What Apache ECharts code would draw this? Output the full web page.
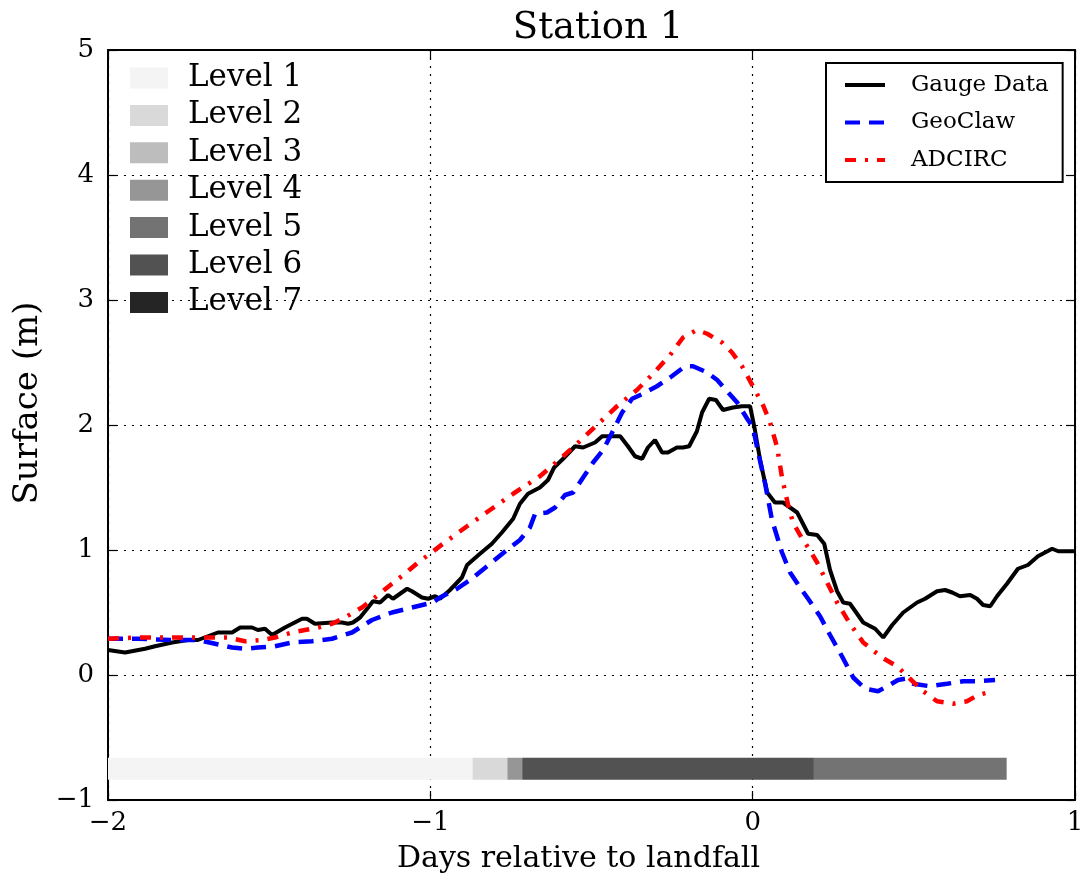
<!DOCTYPE html>
<html>
<head>
<meta charset="utf-8">
<script src="https://cdn.jsdelivr.net/npm/echarts@6/dist/echarts.min.js"></script>
<style>html,body{margin:0;padding:0;background:#fff;}#c{width:1081px;height:888px;}</style>
</head>
<body>
<div id="c"></div>
<script>
// ---- data ----
const gaugeDays = [-2.000,-1.947,-1.885,-1.854,-1.801,-1.752,-1.721,-1.690,-1.659,-1.615,-1.590,-1.553,-1.535,-1.513,-1.491,-1.451,-1.398,-1.383,-1.358,-1.305,-1.274,-1.255,-1.240,-1.218,-1.193,-1.178,-1.156,-1.131,-1.116,-1.072,-1.057,-1.026,-1.007,-0.985,-0.970,-0.939,-0.902,-0.886,-0.846,-0.809,-0.778,-0.743,-0.722,-0.697,-0.660,-0.635,-0.616,-0.588,-0.551,-0.526,-0.489,-0.467,-0.442,-0.411,-0.387,-0.365,-0.343,-0.325,-0.303,-0.281,-0.263,-0.235,-0.216,-0.197,-0.173,-0.157,-0.135,-0.114,-0.092,-0.061,-0.033,-0.008,0.007,0.023,0.045,0.069,0.094,0.138,0.172,0.200,0.222,0.240,0.262,0.281,0.302,0.343,0.380,0.405,0.433,0.467,0.510,0.535,0.572,0.597,0.619,0.643,0.675,0.696,0.715,0.737,0.758,0.789,0.823,0.854,0.885,0.929,0.948,1.000];
const gaugeValues = [0.20,0.18,0.21,0.23,0.26,0.28,0.28,0.31,0.34,0.34,0.38,0.38,0.36,0.37,0.32,0.38,0.45,0.45,0.41,0.42,0.42,0.41,0.42,0.46,0.54,0.59,0.58,0.64,0.61,0.69,0.67,0.62,0.61,0.63,0.61,0.68,0.78,0.88,0.97,1.05,1.14,1.25,1.37,1.45,1.50,1.56,1.66,1.73,1.83,1.82,1.86,1.91,1.91,1.91,1.83,1.75,1.73,1.82,1.88,1.78,1.78,1.82,1.82,1.83,1.95,2.10,2.21,2.20,2.12,2.14,2.15,2.15,1.96,1.72,1.46,1.38,1.38,1.30,1.13,1.12,1.05,0.84,0.67,0.58,0.57,0.42,0.37,0.30,0.40,0.50,0.58,0.61,0.67,0.68,0.66,0.63,0.64,0.61,0.56,0.55,0.63,0.73,0.85,0.88,0.95,1.01,0.99,0.99];

const geoclawDays = [-2.000,-1.907,-1.801,-1.721,-1.668,-1.615,-1.575,-1.535,-1.482,-1.429,-1.367,-1.305,-1.243,-1.181,-1.119,-1.057,-0.992,-0.970,-0.917,-0.877,-0.824,-0.762,-0.722,-0.691,-0.675,-0.638,-0.613,-0.582,-0.557,-0.526,-0.495,-0.464,-0.436,-0.405,-0.374,-0.340,-0.297,-0.256,-0.210,-0.185,-0.141,-0.110,-0.079,-0.048,-0.017,0.001,0.017,0.038,0.060,0.091,0.116,0.147,0.172,0.209,0.240,0.277,0.312,0.349,0.389,0.417,0.451,0.473,0.498,0.550,0.603,0.653,0.696,0.752];
const geoclawValues = [0.29,0.29,0.28,0.28,0.25,0.22,0.21,0.22,0.23,0.26,0.27,0.29,0.34,0.44,0.50,0.54,0.58,0.62,0.69,0.76,0.87,1.00,1.08,1.18,1.29,1.30,1.34,1.44,1.46,1.58,1.70,1.80,1.94,2.10,2.21,2.25,2.31,2.38,2.47,2.47,2.42,2.36,2.27,2.18,2.05,1.98,1.78,1.54,1.24,0.98,0.82,0.70,0.61,0.47,0.32,0.15,-0.02,-0.11,-0.13,-0.09,-0.04,-0.03,-0.07,-0.09,-0.07,-0.05,-0.05,-0.04];

const adcircDays = [-2.000,-1.907,-1.801,-1.708,-1.628,-1.575,-1.522,-1.482,-1.429,-1.389,-1.348,-1.305,-1.265,-1.212,-1.172,-1.119,-1.079,-1.038,-1.001,-0.961,-0.886,-0.815,-0.743,-0.660,-0.588,-0.545,-0.483,-0.421,-0.359,-0.309,-0.256,-0.216,-0.173,-0.141,-0.095,-0.064,-0.033,-0.014,0.007,0.032,0.054,0.076,0.091,0.110,0.125,0.147,0.172,0.200,0.231,0.262,0.302,0.343,0.401,0.448,0.488,0.529,0.572,0.622,0.665,0.699,0.730];
const adcircValues = [0.29,0.30,0.30,0.30,0.30,0.27,0.28,0.30,0.34,0.36,0.38,0.41,0.46,0.54,0.62,0.73,0.81,0.90,0.97,1.05,1.19,1.32,1.45,1.59,1.75,1.85,2.00,2.15,2.28,2.41,2.56,2.70,2.76,2.73,2.66,2.58,2.47,2.38,2.28,2.16,2.02,1.82,1.58,1.36,1.22,1.12,1.02,0.90,0.74,0.58,0.41,0.26,0.14,0.07,-0.03,-0.13,-0.21,-0.23,-0.21,-0.16,-0.14];

// refinement level bar (segments in days)
const levelNames = ['Level 1','Level 2','Level 3','Level 4','Level 5','Level 6','Level 7'];
const levelSegStart = [-2.000, -0.869, -0.761, -0.715, 0.190];
const levelSegEnd   = [-0.869, -0.761, -0.715, 0.190, 0.788];
const levelSegLevel = [1, 2, 4, 6, 5];
const levelBarY = -0.75;
const levelBarHeight = 0.176;

const xTicks = [-2, -1, 0, 1];
const yTicks = [-1, 0, 1, 2, 3, 4, 5];

// ---- styles ----
const FONT = "'DejaVu Serif', serif";
const levelColors = ['#f4f4f4','#d9d9d9','#bdbdbd','#969696','#737373','#525252','#252525'];
const zip = (a, b) => a.map((v, i) => [v, b[i]]);
const fmt = v => (v < 0 ? '\u2212' + Math.abs(v) : String(v));

const levelSeries = levelNames.map((name, k) => {
  const data = [];
  levelSegLevel.forEach((lv, i) => { if (lv === k + 1) data.push([levelSegStart[i], levelSegEnd[i]]); });
  return {
    name: name,
    type: 'custom',
    xAxisIndex: 0, yAxisIndex: 0,
    itemStyle: { color: levelColors[k] },
    encode: { x: [0, 1] },
    data: data,
    z: 3,
    renderItem: (params, api) => {
      const p0 = api.coord([api.value(0), levelBarY]);
      const p1 = api.coord([api.value(1), levelBarY]);
      const h = api.size([0, levelBarHeight])[1];
      return { type: 'rect', shape: { x: p0[0], y: p0[1] - h / 2, width: p1[0] - p0[0], height: h }, style: { fill: levelColors[k] } };
    }
  };
});

const axisLineStyle = { show: true, onZero: false, lineStyle: { color: '#000', width: 2 } };
const tickStyle = { show: true, inside: true, length: 9, lineStyle: { color: '#000', width: 1.2 } };
const gridLine = { show: true, lineStyle: { color: '#000', width: 1.2, type: [2, 6] } };

const chart = echarts.init(document.getElementById('c'), null, { renderer: 'canvas' });
chart.setOption({
  animation: false,
  backgroundColor: '#fff',
  title: {
    text: 'Station 1', left: 593, top: 5, textAlign: 'center',
    textStyle: { fontFamily: FONT, fontSize: 37, fontWeight: 'normal', color: '#000' }
  },
  grid: { left: 108, right: 6, top: 50, bottom: 88, containLabel: false, outerBoundsMode: 'none' },
  legend: [
    {
      data: levelNames, orient: 'vertical', left: 130, top: 62.5, padding: 0,
      icon: 'rect', itemWidth: 38, itemHeight: 21, itemGap: 6.4, selectedMode: false,
      textStyle: { fontFamily: FONT, fontSize: 31, color: '#000', lineHeight: 21, padding: [0, 0, 0, 15] }
    },
    {
      data: ['Gauge Data', 'GeoClaw', 'ADCIRC'], orient: 'vertical', left: 826, top: 63,
      padding: [10.5, 14, 10.5, 17], borderColor: '#000', borderWidth: 2, borderRadius: 0, backgroundColor: '#fff',
      itemWidth: 40, itemHeight: 22, itemGap: 14.5, selectedMode: false,
      itemStyle: { opacity: 0 },
      lineStyle: { width: 4 },
      textStyle: { fontFamily: FONT, fontSize: 23, color: '#000', lineHeight: 22, padding: [0, 0, 0, 21] }
    }
  ],
  xAxis: [
    {
      type: 'value', min: xTicks[0], max: xTicks[xTicks.length - 1], interval: 1, position: 'bottom',
      name: 'Days relative to landfall', nameLocation: 'middle', nameGap: 44,
      nameTextStyle: { fontFamily: FONT, fontSize: 30, color: '#000', padding: [0, 26, 0, 0] },
      axisLine: axisLineStyle, axisTick: tickStyle, splitLine: gridLine,
      axisLabel: { formatter: fmt, fontFamily: FONT, fontSize: 26, color: '#000', margin: 10 }
    },
    {
      type: 'value', min: xTicks[0], max: xTicks[xTicks.length - 1], interval: 1, position: 'top',
      axisLine: axisLineStyle, axisTick: tickStyle, splitLine: { show: false }, axisLabel: { show: false }
    }
  ],
  yAxis: [
    {
      type: 'value', min: yTicks[0], max: yTicks[yTicks.length - 1], interval: 1, position: 'left',
      name: 'Surface (m)', nameLocation: 'middle', nameGap: 62, nameRotate: 90,
      nameTextStyle: { fontFamily: FONT, fontSize: 34, color: '#000', padding: [0, 0, 0, 44] },
      axisLine: axisLineStyle, axisTick: tickStyle, splitLine: gridLine,
      axisLabel: { formatter: fmt, fontFamily: FONT, fontSize: 26, color: '#000', margin: 14 }
    },
    {
      type: 'value', min: yTicks[0], max: yTicks[yTicks.length - 1], interval: 1, position: 'right',
      axisLine: axisLineStyle, axisTick: tickStyle, splitLine: { show: false }, axisLabel: { show: false }
    }
  ],
  series: [
    {
      name: 'Gauge Data', type: 'line', data: zip(gaugeDays, gaugeValues),
      showSymbol: false, symbol: 'none', color: '#000', z: 4,
      lineStyle: { color: '#000', width: 4, type: 'solid' }
    },
    {
      name: 'GeoClaw', type: 'line', data: zip(geoclawDays, geoclawValues),
      showSymbol: false, symbol: 'none', color: '#0000ff', z: 5,
      lineStyle: { color: '#0000ff', width: 4.5, type: [15, 9] }
    },
    {
      name: 'ADCIRC', type: 'line', data: zip(adcircDays, adcircValues),
      showSymbol: false, symbol: 'none', color: '#ff0000', z: 6,
      lineStyle: { color: '#ff0000', width: 4.5, type: [11, 9, 3, 9] }
    }
  ].concat(levelSeries)
});
</script>
</body>
</html>
